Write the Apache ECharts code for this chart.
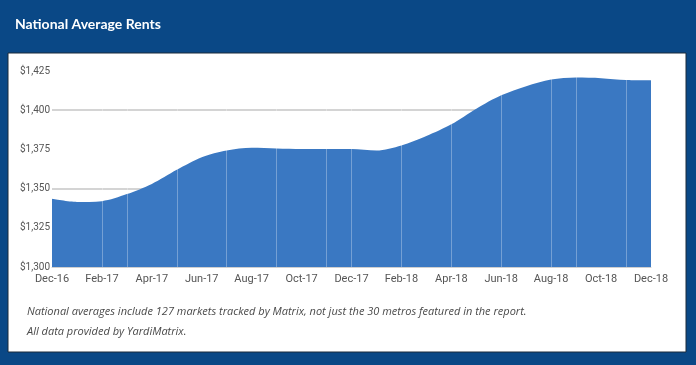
<!DOCTYPE html>
<html><head><meta charset="utf-8">
<script src="https://cdn.jsdelivr.net/npm/echarts@6/dist/echarts.min.js"></script>
<style>html,body{margin:0;padding:0;background:#0a4886;}#c{width:696px;height:365px;}</style>
</head><body><div id="c"></div>
<script>
const months = ["Dec-16","Jan-17","Feb-17","Mar-17","Apr-17","May-17","Jun-17","Jul-17","Aug-17","Sep-17","Oct-17","Nov-17","Dec-17","Jan-18","Feb-18","Mar-18","Apr-18","May-18","Jun-18","Jul-18","Aug-18","Sep-18","Oct-18","Nov-18","Dec-18"];
const rents = [1343.5,1341.5,1342,1346.5,1353,1362,1370,1374.3,1376,1375.6,1375.3,1375.3,1375.2,1374.3,1377.5,1383.5,1391,1401,1409.5,1415.3,1419.5,1420.8,1420.4,1419.2,1419];
const dividerMonths = ["Feb-17","Mar-17","May-17","Jul-17","Sep-17","Nov-17","Dec-17","Feb-18","Apr-18","Jun-18","Aug-18","Sep-18","Nov-18"];
const yTicks = {min:1300, max:1425, interval:25};
const titleText = "National Average Rents";
const notes = ["National averages include 127 markets tracked by Matrix, not just the 30 metros featured in the report.","All data provided by YardiMatrix."];

const chart = echarts.init(document.getElementById('c'), null, {renderer:'canvas'});
chart.setOption({
  backgroundColor:'#0a4886',
  animation:false,
  title:{text:titleText,left:10,top:12,textStyle:{color:'#fff',fontFamily:'Lato',fontWeight:'bold',fontSize:14}},
  graphic:[
    {type:'rect',z:-10,shape:{x:8,y:53,width:678,height:299},style:{fill:'#fff',stroke:'#1b2a3a',lineWidth:1}},
    {type:'text',z:10,left:27,top:306,style:{text:notes[0],fill:'#4a4a4a',font:'italic 11px "Open Sans"'}},
    {type:'text',z:10,left:27,top:326,style:{text:notes[1],fill:'#4a4a4a',font:'italic 11px "Open Sans"'}}
  ],
  grid:{left:52,right:45,top:71,bottom:98,containLabel:false},
  xAxis:{type:'category',data:months,boundaryGap:false,
    axisLine:{show:true,lineStyle:{color:'#cfcfcf'}},axisTick:{show:false},
    axisLabel:{interval:1,color:'#555',fontFamily:'Liberation Sans Narrow, Roboto',fontSize:11,margin:7},
    splitLine:{show:false}},
  yAxis:{type:'value',min:yTicks.min,max:yTicks.max,interval:yTicks.interval,
    axisLine:{show:false},axisTick:{show:false},
    axisLabel:{color:'#555',fontSize:10,fontFamily:'Roboto',margin:2,
      formatter:v=>'$'+v.toLocaleString('en-US')},
    splitLine:{show:true,lineStyle:{color:['#d4d4d4','rgba(0,0,0,0)'],width:2}}},
  series:[{type:'line',data:rents,smooth:0.3,symbol:'none',
    lineStyle:{width:0},areaStyle:{color:'#3a78c2',opacity:1},
    markLine:{silent:true,symbol:'none',label:{show:false},
      lineStyle:{color:'rgba(255,255,255,0.3)',width:1,type:'solid'},
      data:dividerMonths.map(m=>({xAxis:m}))}
  }]
});
</script></body></html>
